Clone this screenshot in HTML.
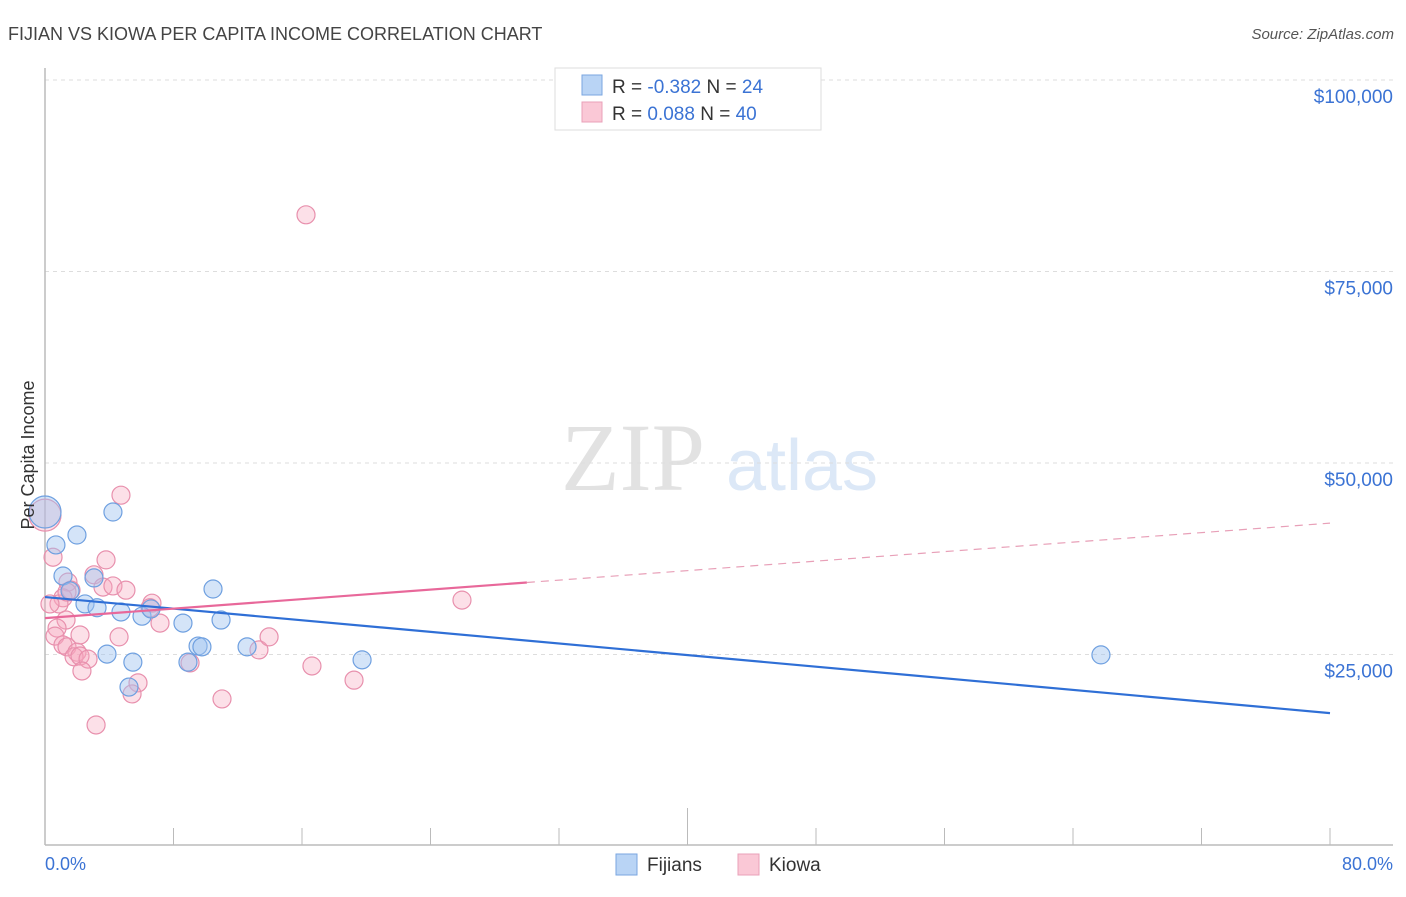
<!DOCTYPE html>
<html><head><meta charset="utf-8"><style>
body{margin:0;background:#fff;font-family:"Liberation Sans",sans-serif}
svg text{font-family:"Liberation Sans",sans-serif}
</style></head><body>
<svg id="c" width="1406" height="892" xmlns="http://www.w3.org/2000/svg">
<text x="8" y="40" font-size="18" fill="#444">FIJIAN VS KIOWA PER CAPITA INCOME CORRELATION CHART</text>
<text x="1394" y="39" font-size="15" fill="#555" font-style="italic" text-anchor="end">Source: ZipAtlas.com</text>
<text x="633" y="490" font-size="96" fill="#e2e2e2" font-family="Liberation Serif" text-anchor="middle" style="font-family:'Liberation Serif',serif">ZIP</text>
<text x="802" y="490" font-size="72" fill="#dce8f7" text-anchor="middle">atlas</text>
<g id="grid"></g>
<g id="axes"></g>
<g id="marks"></g>
<text transform="translate(34,455) rotate(-90)" font-size="18" fill="#333" text-anchor="middle">Per Capita Income</text>
<text x="45" y="870" font-size="18" fill="#3b73d4">0.0%</text>
<text x="1393" y="870" font-size="18" fill="#3b73d4" text-anchor="end">80.0%</text>
<g>
<rect x="616" y="854" width="21" height="21" fill="#b9d4f5" stroke="#7aa6e0"/>
<text x="647" y="871" font-size="19" fill="#333">Fijians</text>
<rect x="738" y="854" width="21" height="21" fill="#fac8d6" stroke="#e9a0b8"/>
<text x="769" y="871" font-size="19" fill="#333">Kiowa</text>
</g>
<g>
<rect x="555" y="68" width="266" height="62" fill="#fff" stroke="#ddd"/>
<rect x="582" y="75" width="20" height="20" fill="#b9d4f5" stroke="#7aa6e0"/>
<text x="612" y="93" font-size="19" fill="#333">R = <tspan fill="#3b73d4">-0.382</tspan>   N = <tspan fill="#3b73d4">24</tspan></text>
<rect x="582" y="102" width="20" height="20" fill="#fac8d6" stroke="#e9a0b8"/>
<text x="612" y="120" font-size="19" fill="#333">R =  <tspan fill="#3b73d4">0.088</tspan>   N = <tspan fill="#3b73d4">40</tspan></text>
</g>
</svg>
<script>
const yTicks=[25000,50000,75000,100000];
const yTickLabels=["$25,000","$50,000","$75,000","$100,000"];
const fijiansX=[0,0.68,1.99,4.23,1.12,3.05,1.56,2.49,3.24,4.73,6.04,6.6,8.59,10.96,10.46,3.86,5.47,5.23,8.9,9.53,9.77,12.58,19.74,65.74];
const fijiansY=[43600,39300,40600,43600,35250,35000,33300,31600,31100,30550,30000,30950,29100,29500,33550,25050,24000,20750,24000,26100,26000,26000,24300,24950];
const kiowaX=[0,4.73,16.25,0.5,3.8,1.43,1.62,3.05,1.12,3.61,4.23,5.04,6.66,7.16,0.87,0.31,1.31,0.75,2.18,0.62,4.61,1.12,1.37,1.99,1.81,2.18,2.68,2.3,9.03,5.79,5.42,3.18,11.02,13.32,13.95,16.62,19.24,25.96,6.54,1.37];
const kiowaY=[43200,45800,82400,37700,37350,34450,33400,35400,32400,33800,33950,33400,31700,29100,31600,31600,29500,28450,27550,27400,27300,26250,26000,25300,24700,24800,24400,22850,23900,21300,19850,15800,19200,25600,27300,23500,21650,32100,31100,33150];
const fijiansTrend=[32500,17350];
const kiowaTrend=[29750,42150];
const kiowaSolidEnd=30;
const NS="http://www.w3.org/2000/svg";
const xs=p=>45+p/80*1285, ys=v=>846-v/25000*191.5;
function mk(parent,tag,a){const e=document.createElementNS(NS,tag);for(const k in a)e.setAttribute(k,a[k]);document.getElementById(parent).appendChild(e);return e;}
yTicks.forEach((t,i)=>{
 const l=mk('grid','line',{x1:45,x2:1393,y1:ys(t),y2:ys(t),stroke:'#ddd','stroke-dasharray':'4,4'});
 
 
 const tx=mk('grid','text',{x:1393,y:ys(t)+23,'font-size':19,fill:'#3b73d4','text-anchor':'end'});
 tx.textContent=yTickLabels[i];
 
 
});
const xa=mk('axes','line',{x1:45,x2:1393,y1:845,y2:845,stroke:'#bbb','stroke-width':1.5});


const ya=mk('axes','line',{x1:45,x2:45,y1:68,y2:845,stroke:'#bbb','stroke-width':1.5});


for(let i=0;i<=10;i++){
 const x=xs(i*8);
 const t=mk('axes','line',{x1:x,x2:x,y1:i==5?808:828,y2:845,stroke:'#bbb'});
 
 
}
function pts(X,Y,fill,stroke,name){
 X.forEach((x,i)=>{
  const c=mk('marks','circle',{cx:xs(x),cy:ys(Y[i]),r:(x===0&&Y[i]>42000)?16:9,fill:fill,stroke:stroke,'stroke-width':1.2});
  
  
 });
}
pts(kiowaX,kiowaY,'rgba(245,165,190,0.35)','#e890ad','kiowa-point');
pts(fijiansX,fijiansY,'rgba(160,196,240,0.45)','#6fa0e0','fijians-point');
const bl=mk('marks','line',{x1:xs(0),y1:ys(fijiansTrend[0]),x2:xs(80),y2:ys(fijiansTrend[1]),stroke:'#2f6fd6','stroke-width':2.2});


const kv=p=>kiowaTrend[0]+(kiowaTrend[1]-kiowaTrend[0])*p/80;
const pl=mk('marks','line',{x1:xs(0),y1:ys(kv(0)),x2:xs(kiowaSolidEnd),y2:ys(kv(kiowaSolidEnd)),stroke:'#e8689a','stroke-width':2.2});


const pd=mk('marks','line',{x1:xs(kiowaSolidEnd),y1:ys(kv(kiowaSolidEnd)),x2:xs(80),y2:ys(kv(80)),stroke:'#e8a0b8','stroke-width':1.2,'stroke-dasharray':'8,6'});


</script>
</body></html>
